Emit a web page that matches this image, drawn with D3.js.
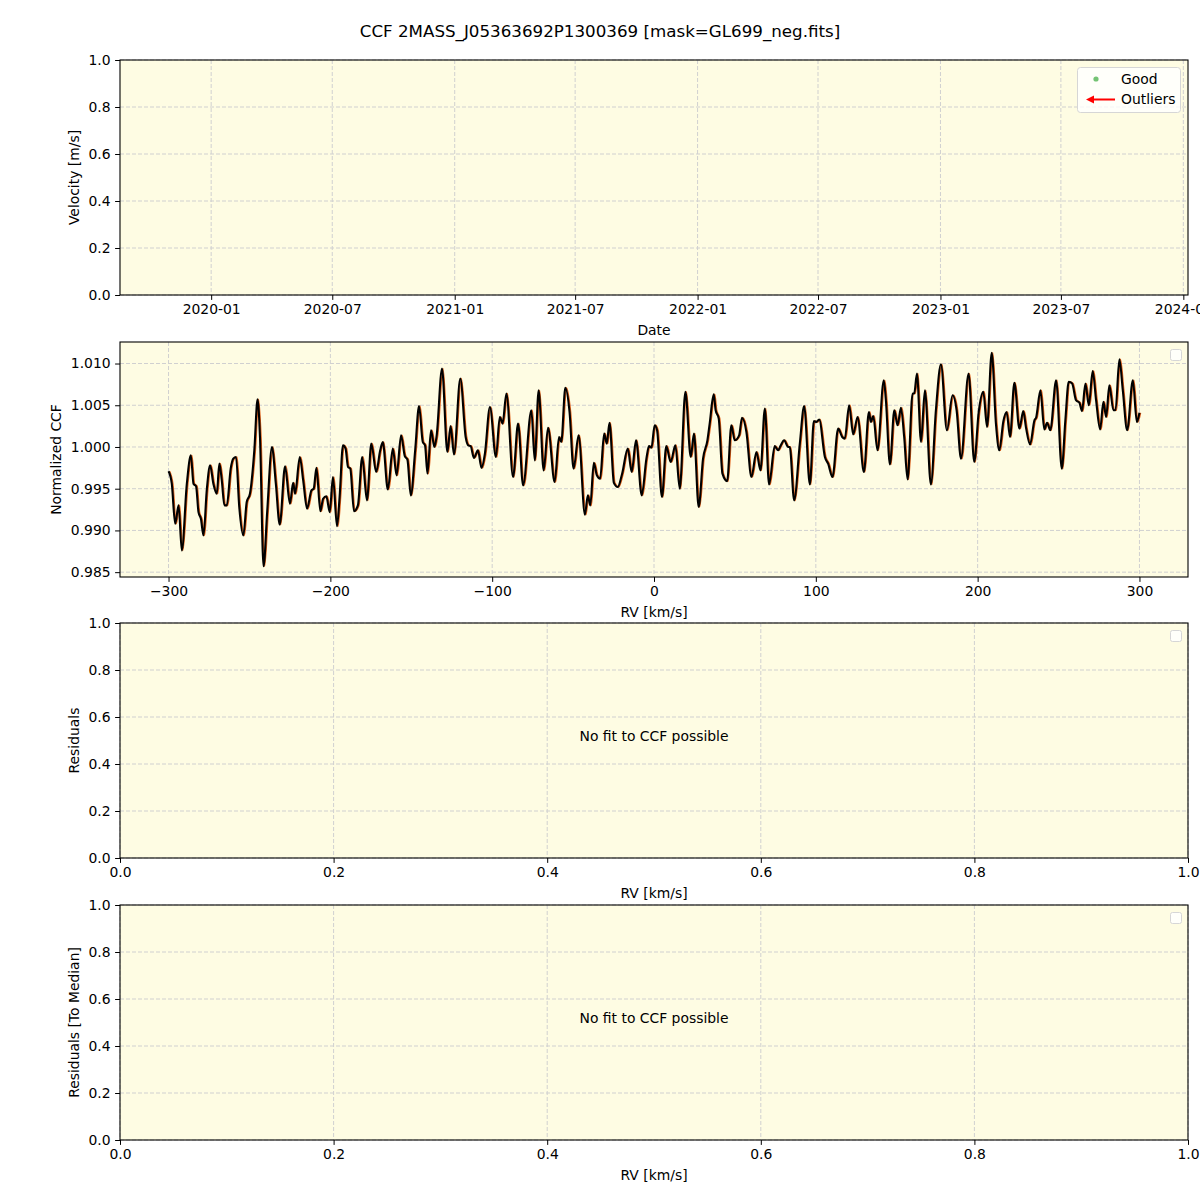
<!DOCTYPE html>
<html>
<head>
<meta charset="utf-8">
<script src="https://cdn.jsdelivr.net/npm/d3@7"></script>
<style>
  body { margin: 0; background: #ffffff; }
  svg { display: block; font-family: "DejaVu Sans", sans-serif; }
</style>
</head>
<body>
<svg id="chart" width="1200" height="1200"></svg>
<script>
// ---------------- DATA ----------------
const title = "CCF 2MASS_J05363692P1300369 [mask=GL699_neg.fits]";
const dateTicks = ["2020-01-01","2020-07-01","2021-01-01","2021-07-01","2022-01-01","2022-07-01","2023-01-01","2023-07-01","2024-01-01"];
const dateDomain = ["2019-08-17","2024-01-08"];
const unitTicks = [0, 0.2, 0.4, 0.6, 0.8, 1.0];
const rvTicks = [-300, -200, -100, 0, 100, 200, 300];
const ccfTicks = [0.985, 0.990, 0.995, 1.000, 1.005, 1.010];
const legendLabels = ["Good", "Outliers"];
const noFitText = "No fit to CCF possible";
// [RV km/s, normalized CCF]
const ccfPoints = [
[-300,0.99708],[-298,0.9956],[-295.9,0.9908],[-293.8,0.9930],[-291.8,0.9876],[-288.7,0.9956],[-286.2,0.9990],[-284.6,0.9956],
[-283,0.9953],[-281.5,0.9922],[-280,0.9914],[-278.4,0.9894],[-276.4,0.9948],[-274.3,0.9978],[-272.3,0.9956],[-270.2,0.9944],
[-268.6,0.9980],[-267.1,0.9960],[-265.5,0.9930],[-264,0.9930],[-261.6,0.9974],[-260,0.9986],[-258.3,0.9988],[-256.3,0.9928],
[-253.8,0.9894],[-251.7,0.9934],[-249.7,0.9944],[-247,0.9996],[-245,1.0057],[-243.5,1.0012],[-241.3,0.9857],[-239,0.9924],
[-236.1,1.0000],[-233.7,0.9956],[-231.3,0.9907],[-228,0.9977],[-225,0.9932],[-223,0.9957],[-221.8,0.9944],[-218.9,0.9988],
[-216.8,0.9960],[-214.4,0.9926],[-211.7,0.9948],[-210.3,0.9950],[-208.6,0.9975],[-206.2,0.9923],[-204.5,0.9938],[-202.5,0.9941],
[-200.4,0.9922],[-198.4,0.9964],[-195.9,0.9905],[-194.3,0.9940],[-192.2,1.0002],[-190.6,0.9998],[-189.1,0.9976],[-187.7,0.9974],
[-185.4,0.9923],[-183,0.9930],[-180.3,0.9988],[-177.4,0.9936],[-174.7,1.0004],[-171.7,0.9970],[-169.2,0.9996],[-167.6,1.0006],
[-164.5,0.9949],[-161.4,0.9998],[-159.1,0.9966],[-156.3,1.0014],[-154.0,0.9989],[-152.4,0.9985],[-150.3,0.9942],[-147.6,0.9996],
[-145.2,1.0049],[-142.9,1.0006],[-141.5,1.0002],[-140,0.9968],[-137.8,1.0020],[-135.7,1.0000],[-134.3,1.0014],[-131,1.0094],
[-127.7,0.9994],[-125.7,1.0025],[-123.6,0.9991],[-119.7,1.0082],[-116.4,1.0012],[-114.8,1.0002],[-113.3,1.0001],[-111.3,0.9987],
[-108.8,0.9996],[-106.6,0.9975],[-104.5,0.9992],[-101.4,1.0048],[-97.7,0.9988],[-95.3,1.0036],[-93.6,1.0028],[-91.2,1.0064],
[-87.1,0.9964],[-84,1.0028],[-80.9,0.9954],[-75.8,1.0044],[-73.7,0.9984],[-71.3,1.0068],[-68.2,0.9972],[-65.5,1.0023],
[-61.4,0.9958],[-58.7,1.0012],[-57.3,1.0006],[-54.8,1.0071],[-52.2,1.0042],[-49.7,0.9974],[-46.6,1.0014],[-42.7,0.9919],
[-40.9,0.9942],[-39.4,0.9930],[-37.2,0.9981],[-35.3,0.9966],[-33.3,0.9962],[-30.8,1.0016],[-29.2,1.0004],[-27.5,1.0029],
[-24.8,0.9957],[-22.4,0.9952],[-19.7,0.9968],[-16.2,0.9998],[-13.8,0.9970],[-11.1,1.0008],[-7.6,0.9942],[-4.7,0.9986],
[-3.1,1.0001],[-1.6,0.9999],[0.4,1.0026],[1.9,1.0020],[4.9,0.9940],[7.6,1.0001],[10.3,0.9982],[13.2,1.0002],
[15.9,0.9950],[19.4,1.0066],[22.7,0.9988],[24.7,1.0016],[27.6,0.9928],[30.3,0.9986],[33,1.0008],[34.4,1.0028],
[36.9,1.0063],[38.1,1.0044],[40,1.0034],[42.3,0.9968],[45.2,0.9959],[47.8,1.0026],[49.9,1.0008],[52.6,1.0014],
[54.4,1.0035],[57.1,1.0018],[60.2,0.9964],[63.3,0.9994],[65.8,0.9972],[68.5,1.0046],[71.1,0.9955],[74.6,1.0001],
[76.7,0.9996],[78.1,1.0001],[80.4,1.0008],[82.9,1.0000],[83.9,1.0000],[86.6,0.9936],[90.1,1.0004],[92.8,1.0049],
[96.3,0.9955],[98.8,1.0031],[100.4,1.0030],[102.1,1.0033],[105.6,0.9988],[107.6,0.9980],[110.3,0.9964],[113.8,1.0022],
[116.3,1.0012],[117.9,1.0010],[120.6,1.0050],[123.1,1.0015],[125.8,1.0036],[129.7,0.9970],[132.8,1.0042],[134,1.0030],
[135.5,1.0037],[138.1,0.9996],[142.0,1.0080],[143.3,1.0056],[145.8,0.9979],[148.5,1.0044],[150.5,1.0026],[152.6,1.0047],
[154.6,1.0012],[156.7,0.9961],[159.8,1.0064],[160.8,1.0064],[162.5,1.0088],[165,1.0006],[167.4,1.0068],[171.1,0.9955],
[174.2,1.0044],[177.3,1.0099],[181,1.0020],[184.5,1.0062],[187,1.0044],[189.7,0.9986],[194.4,1.0088],[197.9,0.9982],
[200.6,1.0041],[203.5,1.0066],[205.8,1.0024],[208.7,1.0113],[211.3,1.0028],[213.4,0.9996],[215.9,1.0031],[217.9,1.0042],
[220,1.0012],[222.7,1.0077],[225.8,1.0022],[228.2,1.0043],[229.9,1.0023],[232.4,1.0003],[235.1,1.0032],[236.1,1.0035],
[238.8,1.0068],[241.2,1.0021],[242.9,1.0029],[244.9,1.0020],[248.5,1.0080],[252,0.9974],[254.2,1.0032],[256.3,1.0078],
[258.4,1.0076],[260.8,1.0056],[262.9,1.0053],[264.5,1.0043],[266.6,1.0076],[268.7,1.0050],[271.1,1.0091],[273.2,1.0056],
[275.7,1.0021],[277.7,1.0054],[279.4,1.0036],[281.4,1.0074],[283.9,1.0044],[285.2,1.0044],[287.6,1.0105],[289.7,1.0068],
[292.4,1.0020],[295.9,1.0080],[298.4,1.0030],[300,1.0041]
];

// ---------------- LAYOUT ----------------
const svg = d3.select("#chart");
const L = 120, R = 1188;
const panels = [
  {top: 60,  bottom: 295},
  {top: 342, bottom: 577},
  {top: 623, bottom: 858},
  {top: 905, bottom: 1140}
];
const bg = "#fefce3";
const fs = 13.9;
const tickLen = 4.9;

svg.append("text").attr("x", 600).attr("y", 32)
  .attr("text-anchor", "middle").attr("dominant-baseline", "middle")
  .attr("font-size", 16.7).text(title);

function drawPanel(p, xScale, yScale, xTickVals, yTickVals, xFmt, yFmt, xLabel, yLabel, yLabelX) {
  const g = svg.append("g");
  g.append("rect").attr("x", L).attr("y", p.top).attr("width", R - L).attr("height", p.bottom - p.top)
    .attr("fill", bg);
  // grid
  g.selectAll(".gx").data(xTickVals).enter().append("line")
    .attr("x1", d => xScale(d)).attr("x2", d => xScale(d))
    .attr("y1", p.top).attr("y2", p.bottom)
    .attr("stroke", "#d0d0d0").attr("stroke-width", 1).attr("stroke-dasharray", "4,2");
  g.selectAll(".gy").data(yTickVals).enter().append("line")
    .attr("x1", L).attr("x2", R)
    .attr("y1", d => yScale(d)).attr("y2", d => yScale(d))
    .attr("stroke", "#d0d0d0").attr("stroke-width", 1).attr("stroke-dasharray", "4,2");
  // axes
  const xAxis = d3.axisBottom(xScale).tickValues(xTickVals).tickFormat(xFmt).tickSizeInner(tickLen).tickSizeOuter(0).tickPadding(4.5);
  const yAxis = d3.axisLeft(yScale).tickValues(yTickVals).tickFormat(yFmt).tickSizeInner(tickLen).tickSizeOuter(0).tickPadding(4.5);
  const gx = svg.append("g").attr("transform", `translate(0,${p.bottom})`).call(xAxis);
  const gy = svg.append("g").attr("transform", `translate(${L},0)`).call(yAxis);
  [gx, gy].forEach(a => {
    a.select(".domain").remove();
    a.selectAll("text").attr("font-size", fs).attr("font-family", "DejaVu Sans").attr("fill", "#000");
    a.selectAll("line").attr("stroke", "#000").attr("stroke-width", 1);
  });
  svg.append("text").attr("x", (L + R) / 2).attr("y", p.bottom + 36)
    .attr("text-anchor", "middle").attr("dominant-baseline", "middle").attr("font-size", fs).text(xLabel);
  svg.append("text").attr("transform", `translate(${yLabelX},${(p.top + p.bottom) / 2}) rotate(-90)`)
    .attr("text-anchor", "middle").attr("dominant-baseline", "middle").attr("font-size", fs).text(yLabel);
  return g;
}

function frame(p) {
  svg.append("rect").attr("x", L).attr("y", p.top).attr("width", R - L).attr("height", p.bottom - p.top)
    .attr("fill", "none").attr("stroke", "#000").attr("stroke-width", 1.1);
}

function emptyLegend(p) {
  svg.append("rect").attr("x", 1170.5).attr("y", p.top + 7.5).attr("width", 11).attr("height", 11)
    .attr("rx", 2).attr("fill", "#ffffff").attr("fill-opacity", 0.8).attr("stroke", "#d6d6d6").attr("stroke-width", 1);
}

// Panel 1: Velocity vs Date
{
  const p = panels[0];
  const x = d3.scaleUtc().domain(dateDomain.map(d => new Date(d))).range([L, R]);
  const y = d3.scaleLinear().domain([0, 1]).range([p.bottom, p.top]);
  drawPanel(p, x, y, dateTicks.map(d => new Date(d)), unitTicks, d3.utcFormat("%Y-%m"), d3.format(".1f"), "Date", "Velocity [m/s]", 75);
  frame(p);
  // legend
  const lg = svg.append("g");
  lg.append("rect").attr("x", 1077.5).attr("y", 67.5).attr("width", 103).attr("height", 45).attr("rx", 3)
    .attr("fill", "#ffffff").attr("fill-opacity", 0.8).attr("stroke", "#d6d6d6");
  lg.append("circle").attr("cx", 1096).attr("cy", 79).attr("r", 2.6).attr("fill", "#5cb85c").attr("fill-opacity", 0.85);
  lg.append("line").attr("x1", 1115).attr("x2", 1091).attr("y1", 99.5).attr("y2", 99.5)
    .attr("stroke", "#ff0000").attr("stroke-width", 2);
  lg.append("path").attr("d", "M1086,99.5 L1094,95.5 L1094,103.5 Z").attr("fill", "#ff0000");
  lg.selectAll(".lt").data(legendLabels).enter().append("text")
    .attr("x", 1121).attr("y", (d, i) => 79.5 + i * 20.5).attr("dominant-baseline", "middle")
    .attr("font-size", fs).text(d => d);
}

// Panel 2: CCF
{
  const p = panels[1];
  const x = d3.scaleLinear().domain([-330, 330]).range([L, R]);
  const ext = d3.extent(ccfPoints, d => d[1]);
  const pad = (ext[1] - ext[0]) * 0.05;
  const y = d3.scaleLinear().domain([ext[0] - pad, ext[1] + pad]).range([p.bottom, p.top]);
  const g = drawPanel(p, x, y, rvTicks, ccfTicks, d3.format("d"), d3.format(".3f"), "RV [km/s]", "Normalized CCF", 57);
  const line = d3.line().x(d => x(d[0])).y(d => y(d[1])).curve(d3.curveMonotoneX);
  g.append("path").datum(ccfPoints).attr("d", line).attr("fill", "none")
    .attr("stroke", "#e0601a").attr("stroke-width", 1.6).attr("transform", "translate(1,0)");
  g.append("path").datum(ccfPoints).attr("d", line).attr("fill", "none")
    .attr("stroke", "#000000").attr("stroke-width", 2.1).attr("stroke-linejoin", "round");
  frame(p);
  emptyLegend(p);
}

// Panels 3 & 4: residuals (empty)
[[panels[2], "Residuals"], [panels[3], "Residuals [To Median]"]].forEach(([p, lab]) => {
  const x = d3.scaleLinear().domain([0, 1]).range([L, R]);
  const y = d3.scaleLinear().domain([0, 1]).range([p.bottom, p.top]);
  drawPanel(p, x, y, unitTicks, unitTicks, d3.format(".1f"), d3.format(".1f"), "RV [km/s]", lab, 75);
  svg.append("text").attr("x", (L + R) / 2).attr("y", (p.top + p.bottom) / 2 - 4)
    .attr("text-anchor", "middle").attr("dominant-baseline", "middle").attr("font-size", fs).text(noFitText);
  frame(p);
  emptyLegend(p);
});
</script>
</body>
</html>
